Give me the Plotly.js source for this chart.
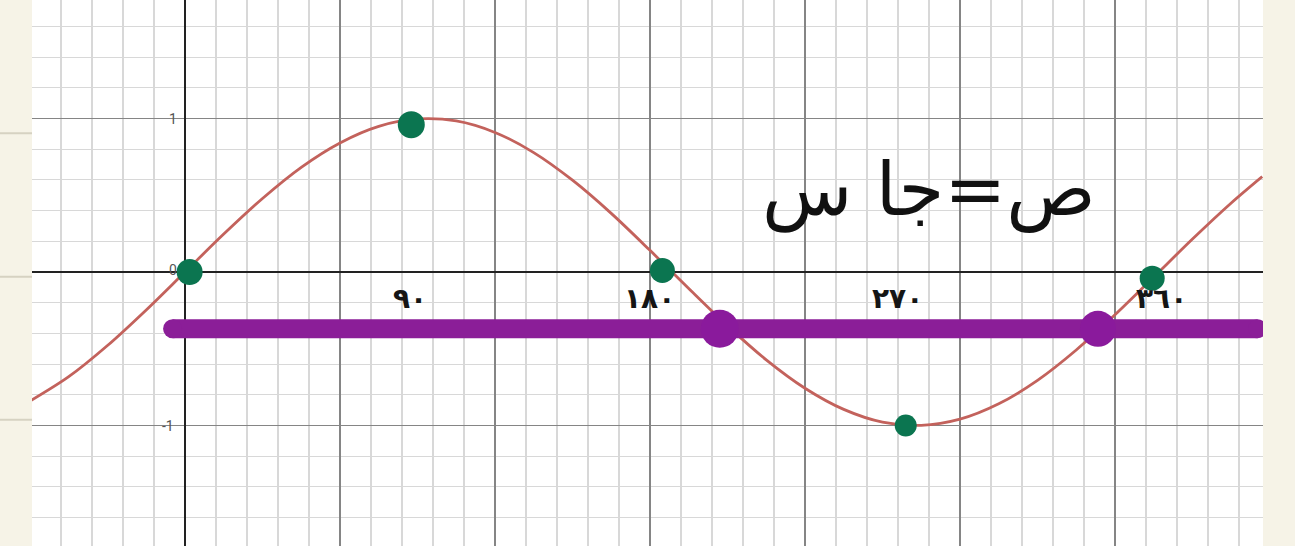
<!DOCTYPE html>
<html>
<head>
<meta charset="utf-8">
<script src="https://cdn.plot.ly/plotly-3.0.1.min.js"></script>
<style>html,body{margin:0;padding:0;background:#f6f3e7;}#chart{width:1295px;height:546px;}</style>
</head>
<body>
<div id="chart"></div>
<script>
// sine curve (x in grid units, y in grid units)
const curveX = [-1.0, -0.75, -0.5, -0.25, 0, 0.25, 0.5, 0.75, 1.0, 1.25, 1.5, 1.75, 2.0, 2.25, 2.5, 2.75, 3.0, 3.25, 3.5, 3.75, 4.0, 4.25, 4.5, 4.75, 5.0, 5.25, 5.5, 5.75, 6.0, 6.25, 6.5, 6.75, 6.95];
const curveY = [-0.841, -0.682, -0.479, -0.247, 0, 0.247, 0.479, 0.682, 0.841, 0.949, 0.997, 0.984, 0.909, 0.778, 0.598, 0.382, 0.141, -0.108, -0.351, -0.572, -0.757, -0.895, -0.978, -0.999, -0.959, -0.859, -0.706, -0.508, -0.279, -0.033, 0.215, 0.450, 0.622];

// horizontal purple line
const lineX = [-0.08, 6.92];
const lineY = [-0.37, -0.37];

// purple intersection blobs
const crossX = [3.45, 5.89];
const crossY = [-0.37, -0.37];

// green hand-drawn points at 0, 90, 180, 270, 360
const greenX = [0.03, 1.46, 3.08, 4.65, 6.24];
const greenY = [0.0, 0.96, 0.01, -1.0, -0.04];

// hand-written degree labels
const degLabels = ['٩٠', '١٨٠', '٢٧٠', '٣٦٠'];
const degLabelX = [1.45, 3.0, 4.6, 6.3];
const degLabelY = [-0.17, -0.17, -0.17, -0.17];

// small axis labels
const axisLabels = ['1', '0', '-1'];
const axisLabelX = [-0.08, -0.08, -0.11];
const axisLabelY = [1.0, 0.01, -1.0];

const equation = 'ص=جا س';

const noLine = {width: 0};
const traces = [
  {x: curveX, y: curveY, mode: 'lines', line: {color: '#c3625c', width: 2.8, shape: 'spline', smoothing: 0.9}, hoverinfo: 'skip'},
  {x: lineX, y: lineY, mode: 'lines', line: {color: '#8b1e98', width: 19}, hoverinfo: 'skip'},
  {x: lineX, y: lineY, mode: 'markers', marker: {color: '#8b1e98', size: 19, opacity: 1, line: noLine}, hoverinfo: 'skip'},
  {x: crossX, y: crossY, mode: 'markers', marker: {color: '#8a1a9c', size: [38, 36], opacity: 1, line: noLine}, hoverinfo: 'skip'},
  {x: greenX, y: greenY, mode: 'markers', marker: {color: '#0b7550', size: [26, 27, 25, 22, 25], opacity: 1, line: noLine}, hoverinfo: 'skip'}
];

const annotations = [];
for (let i = 0; i < degLabels.length; i++) {
  annotations.push({x: degLabelX[i], y: degLabelY[i], xref: 'x', yref: 'y', text: '<b>' + degLabels[i] + '</b>', showarrow: false,
    font: {family: 'DejaVu Sans', size: 28, color: '#151515'}});
}
for (let i = 0; i < axisLabels.length; i++) {
  annotations.push({x: axisLabelX[i], y: axisLabelY[i], xref: 'x', yref: 'y', text: axisLabels[i], showarrow: false,
    font: {family: 'Roboto', size: 14, color: '#555'}});
}
annotations.push({x: 4.8, y: 0.54, xref: 'x', yref: 'y', text: equation, showarrow: false,
  font: {family: 'DejaVu Sans', size: 74, color: '#111'}});

const axisCommon = {
  showticklabels: false, ticks: '', dtick: 1, tick0: 0,
  showgrid: true, gridcolor: '#858585', gridwidth: 1.4,
  zeroline: true, zerolinecolor: '#222222', zerolinewidth: 2,
  showline: false, fixedrange: true,
  minor: {dtick: 0.2, tick0: 0, showgrid: true, gridcolor: '#d8d8d8', gridwidth: 1.1}
};

const layout = {
  width: 1295, height: 546,
  margin: {l: 32, r: 32, t: 0, b: 0},
  paper_bgcolor: '#f6f3e7', plot_bgcolor: '#ffffff',
  showlegend: false,
  xaxis: Object.assign({}, axisCommon, {range: [-0.987, 6.955]}),
  yaxis: Object.assign({}, axisCommon, {range: [-1.785, 1.772]}),
  annotations: annotations,
  shapes: [
    {type: 'line', xref: 'paper', yref: 'paper', x0: -0.026, x1: 0, y0: 0.756, y1: 0.756, line: {color: '#d6d2c2', width: 2}},
    {type: 'line', xref: 'paper', yref: 'paper', x0: -0.026, x1: 0, y0: 0.493, y1: 0.493, line: {color: '#d6d2c2', width: 2}},
    {type: 'line', xref: 'paper', yref: 'paper', x0: -0.026, x1: 0, y0: 0.231, y1: 0.231, line: {color: '#d6d2c2', width: 2}}
  ]
};

Plotly.newPlot('chart', traces, layout, {displayModeBar: false, staticPlot: true});
</script>
</body>
</html>
